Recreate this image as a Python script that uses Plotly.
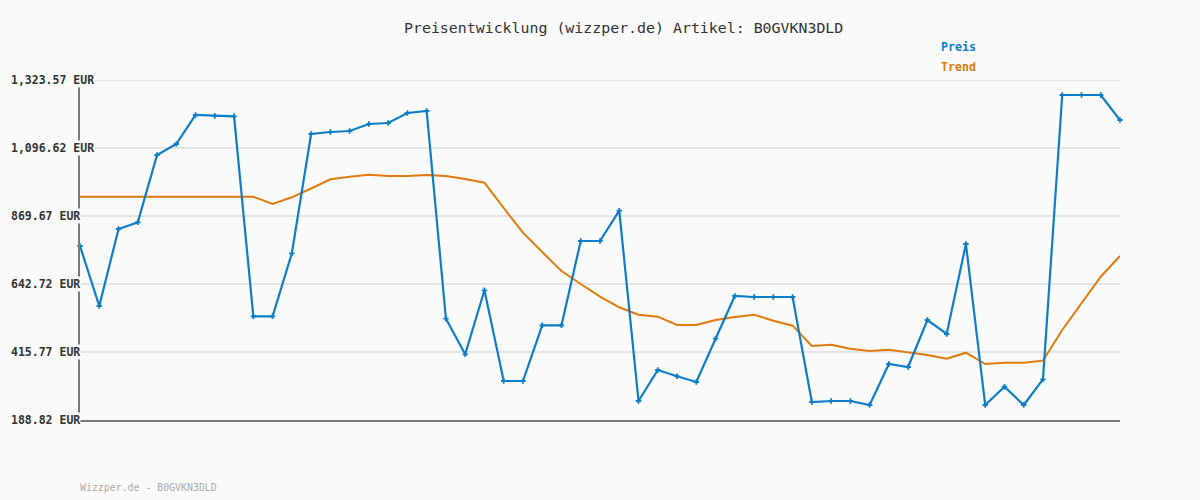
import plotly.graph_objects as go

# ---- data ----
preis = [769.6, 569.3, 826.3, 848.7, 1073.3, 1110.0, 1206.8, 1203.4, 1202.5, 535.0,
         535.0, 745.2, 1143.4, 1150.0, 1153.4, 1176.7, 1180.1, 1213.4, 1220.1, 526.9,
         408.1, 621.7, 319.0, 319.0, 504.9, 504.9, 786.3, 786.3, 887.4, 252.3,
         355.7, 334.7, 315.7, 460.2, 602.7, 599.4, 599.4, 599.4, 248.9, 252.3,
         252.3, 238.9, 375.7, 365.7, 522.6, 475.9, 776.2, 238.9, 300.0, 238.9,
         324.7, 1273.5, 1273.5, 1273.5, 1190.1]
trend = [934.1, 934.1, 934.1, 934.1, 934.1, 934.1, 934.1, 934.1, 934.1, 934.1,
         909.7, 932.1, 961.5, 992.2, 1000.9, 1007.5, 1003.2, 1003.2, 1006.5, 1003.2,
         993.2, 980.8, 896.4, 814.0, 749.5, 686.1, 642.7, 600.4, 565.0, 540.3,
         533.6, 505.9, 505.9, 522.6, 532.6, 540.3, 520.3, 503.6, 435.8, 440.2,
         426.8, 419.1, 423.5, 415.8, 405.8, 393.4, 413.5, 375.7, 380.1, 380.1,
         386.8, 489.2, 578.3, 667.1, 736.2]
x = list(range(len(preis)))
tick_values = [188.82, 415.77, 642.72, 869.67, 1096.62, 1323.57]
tick_labels = ["188.82 EUR", "415.77 EUR", "642.72 EUR", "869.67 EUR", "1,096.62 EUR", "1,323.57 EUR"]
title_text = "Preisentwicklung (wizzper.de) Artikel: B0GVKN3DLD"
footer_text = "Wizzper.de - B0GVKN3DLD"

BLUE = "#0f7cc8"
ORANGE = "#e07b0a"
MONO = "DejaVu Sans Mono"

fig = go.Figure()
fig.add_trace(go.Scatter(x=x, y=trend, mode="lines", name="Trend",
                         line=dict(color=ORANGE, width=2), cliponaxis=False))
fig.add_trace(go.Scatter(x=x, y=preis, mode="lines+markers", name="Preis",
                         line=dict(color=BLUE, width=2.2),
                         marker=dict(symbol="cross", size=4.5, color=BLUE),
                         cliponaxis=False))

# gridlines (extend behind labels)
for v in tick_values[1:]:
    fig.add_shape(type="line", xref="paper", yref="y", x0=-70/1040, x1=1, y0=v, y1=v,
                  line=dict(color="#e4e4e4", width=2), layer="below")

annotations = []
for v, t in zip(tick_values, tick_labels):
    annotations.append(dict(x=-70/1040, y=v, xref="paper", yref="y", text="<b>%s</b>" % t,
                            showarrow=False, xanchor="left", yanchor="middle",
                            bgcolor="#fafafa", borderpad=0,
                            font=dict(family=MONO, size=11.5, color="#333333")))
annotations.append(dict(x=(623-80)/1040, y=(420-28)/340, xref="paper", yref="paper",
                        text=title_text, showarrow=False, xanchor="center", yanchor="middle",
                        font=dict(family=MONO, size=14.9, color="#333333")))
annotations.append(dict(x=(939-80)/1040, y=(420-46.7)/340, xref="paper", yref="paper",
                        text="<b>Preis</b>", showarrow=False, xanchor="left", yanchor="middle",
                        font=dict(family=MONO, size=11.6, color=BLUE)))
annotations.append(dict(x=(939-80)/1040, y=(420-66.7)/340, xref="paper", yref="paper",
                        text="<b>Trend</b>", showarrow=False, xanchor="left", yanchor="middle",
                        font=dict(family=MONO, size=11.6, color=ORANGE)))
annotations.append(dict(x=-2/1040, y=(420-487)/340, xref="paper", yref="paper",
                        text=footer_text, showarrow=False, xanchor="left", yanchor="middle",
                        font=dict(family=MONO, size=9.9, color="#aaaaaa")))

fig.update_layout(
    width=1200, height=500,
    margin=dict(l=80, r=80, t=80, b=80),
    paper_bgcolor="#fafafa", plot_bgcolor="#fafafa",
    showlegend=False,
    annotations=annotations,
    xaxis=dict(range=[0, len(preis) - 1], showticklabels=False, showgrid=False, zeroline=False,
               showline=True, linecolor="#7a7a7a", linewidth=2, ticks=""),
    yaxis=dict(range=[tick_values[0], tick_values[-1]], showticklabels=False, showgrid=False,
               zeroline=False, showline=True, linecolor="#7a7a7a", linewidth=2, ticks=""),
)

fig.write_html("out.html")
